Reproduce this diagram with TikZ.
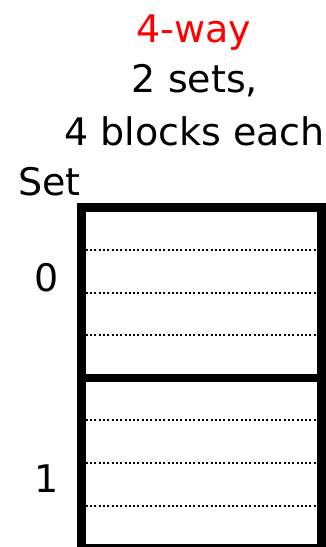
\documentclass[tikz,border=0pt]{standalone}
\usepackage{fontspec}
\setmainfont{DejaVu Sans}
\usetikzlibrary{positioning, calc}

\begin{document}
\begin{tikzpicture}[x=1pt,y=1pt,label/.style={font=\fontsize{38}{45}\selectfont,inner sep=0pt,anchor=base},setbox/.style={draw,line width=8.5pt,minimum width=240pt,minimum height=170.25pt,inner sep=0pt,outer sep=0pt},blockline/.style={line width=2pt,dash pattern=on 2pt off 2.3pt}]
\useasboundingbox (0,0) rectangle (326,-547);
\node[label,text=red] (ways) at (194,-42) {4-way};
\node[label] (sets) at (195,-92.5) {2 sets,};
\node[label] (blocks) at (194.5,-145) {4 blocks each};
\node[label,anchor=base west] (sethead) at (18,-195) {Set};
\node[setbox] (set0) at (201.5,-292.75) {};
\node[setbox] (set1) at (201.5,-463) {};
\foreach \s in {set0,set1}
  \foreach \f in {0.25,0.5,0.75}
    \draw[blockline] ($(\s.north west)!\f!(\s.south west)$) -- ($(\s.north east)!\f!(\s.south east)$);
\node[label] (idx0) at (47,-291.5) {0};
\node[label] (idx1) at (47,-492.5) {1};
\end{tikzpicture}
\end{document}
